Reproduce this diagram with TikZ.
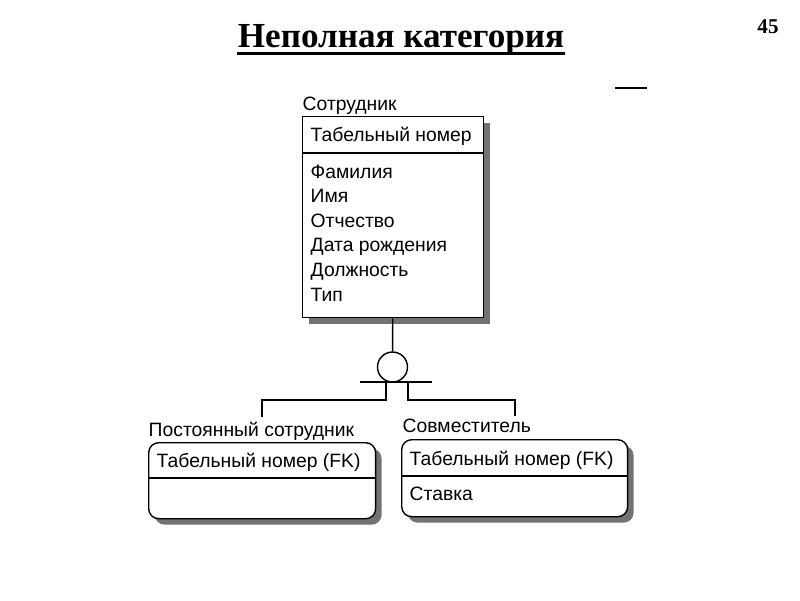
\documentclass[tikz,border=0pt]{standalone}
\usepackage{fontspec}
\setmainfont{Liberation Serif}
\setsansfont{Liberation Sans}
\usetikzlibrary{shadows}
\begin{document}
\begin{tikzpicture}[x=0.02cm,y=-0.02cm,line width=0.8pt,
  attr/.style={font=\sffamily\fontsize{11}{13}\selectfont, anchor=base west, inner sep=0pt},
  entity/.style={draw, fill=white, anchor=north west, inner sep=0pt,
    drop shadow={shadow xshift=3.4pt, shadow yshift=-3.4pt, fill=black!55, opacity=1}},
  dependent/.style={entity, rounded corners=0.2cm}]
\useasboundingbox (0,0) rectangle (800,600);
% title and page number
\node[font=\bfseries\fontsize{20}{24}\selectfont, anchor=base, inner sep=0pt] (title) at (401,47) {Неполная категория};
\draw[line width=1.7pt] ([yshift=-3.6pt]title.base west) -- ([yshift=-3.6pt]title.base east);
\node[font=\bfseries\fontsize{12}{14}\selectfont] (page) at (768,27) {45};
\coordinate (dash west) at (615,88);
\coordinate (dash east) at (647,88);
\draw[line width=1.2pt] (dash west) -- (dash east);
% parent entity
\node[attr] (emp label) at (302,110) {Сотрудник};
\node[entity, minimum width=3.62cm, minimum height=4.02cm] (emp) at (302,116) {};
\draw ([yshift=-0.74cm]emp.north west) -- ([yshift=-0.74cm]emp.north east);
\node[attr] (emp key) at (310,141) {Табельный номер};
\foreach \name [count=\i from 0] in {Фамилия,Имя,Отчество,Дата рождения,Должность,Тип}
  \node[attr] (emp attr \i) at (310,{178+24.6*\i}) {\name};
% category symbol
\node[draw, circle, minimum size=0.6cm, inner sep=0pt] (cat) at (392.5,367) {};
\draw (emp) -- (cat);
\coordinate (bar west) at (360,382);
\coordinate (bar east) at (432,382);
\draw (bar west) -- (bar east);
\coordinate (split left) at (386,382);
\coordinate (split right) at (408,382);
\coordinate (perm top) at (262,417);
\coordinate (part top) at (515,416);
\draw (split left) -- ++(0,18) -| (perm top);
\draw (split right) -- ++(0,18) -| (part top);
% subtype entities
\node[attr] (perm label) at (148,436) {Постоянный сотрудник};
\node[dependent, minimum width=4.54cm, minimum height=1.52cm] (perm) at (148,442) {};
\draw ([yshift=-0.72cm]perm.north west) -- ([yshift=-0.72cm]perm.north east);
\node[attr] (perm key) at (156,467) {Табельный номер (FK)};
\node[attr] (part label) at (402,432) {Совместитель};
\node[dependent, minimum width=4.52cm, minimum height=1.54cm] (part) at (401,439) {};
\draw ([yshift=-0.74cm]part.north west) -- ([yshift=-0.74cm]part.north east);
\node[attr] (part key) at (409,465) {Табельный номер (FK)};
\node[attr] (part rate) at (409,500) {Ставка};
\end{tikzpicture}
\end{document}
